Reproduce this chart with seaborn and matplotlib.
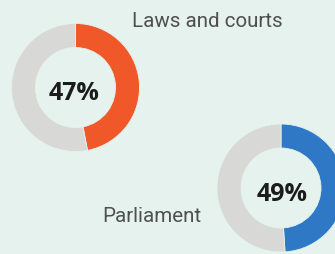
import matplotlib
matplotlib.use("Agg")
import matplotlib.pyplot as plt
import seaborn as sns

# data
labels = ["Laws and courts", "Parliament"]
shares = [47, 49]
ring_colors = ["#f0582a", "#2f78c5"]
rest_color = "#d8d8d6"
bg = "#e5f2ee"

# layout in pixel units (origin top-left), text positions are baselines
centers = [(75.5, 88.5), (281, 189)]
pct_pos = [(74, 99.5), (282, 201.5)]
label_pos = [(207, 27), (152, 222)]
W, H = 335, 255

sns.set_theme(style="white")
plt.rcParams["font.family"] = ["Roboto", "DejaVu Sans"]

fig = plt.figure(figsize=(3.35, 2.55), dpi=100, facecolor=bg)
ax = fig.add_axes([0, 0, 1, 1])
ax.set_facecolor(bg)

for i, (share, color, lab) in enumerate(zip(shares, ring_colors, labels)):
    cx, cy = centers[i]
    ax.pie(
        [share, 100 - share],
        colors=[color, rest_color],
        startangle=90,
        counterclock=False,
        radius=64,
        center=(cx, H - cy),
        wedgeprops=dict(width=24, edgecolor=bg, linewidth=0.6),
        frame=True,
    )
    px, py = pct_pos[i]
    ax.text(px, H - py, f"{share}%", ha="center", va="baseline",
            fontsize=18, fontweight="bold", color="#1c1c1c",
            family=["Open Sans", "DejaVu Sans"])
    lx, ly = label_pos[i]
    ax.text(lx, H - ly, lab, ha="center", va="baseline",
            fontsize=14.8, color="#4f4f4f")

ax.set_xlim(0, W)
ax.set_ylim(0, H)
ax.set_aspect("auto")
ax.axis("off")

fig.savefig("out.png", dpi=100, facecolor=bg)
